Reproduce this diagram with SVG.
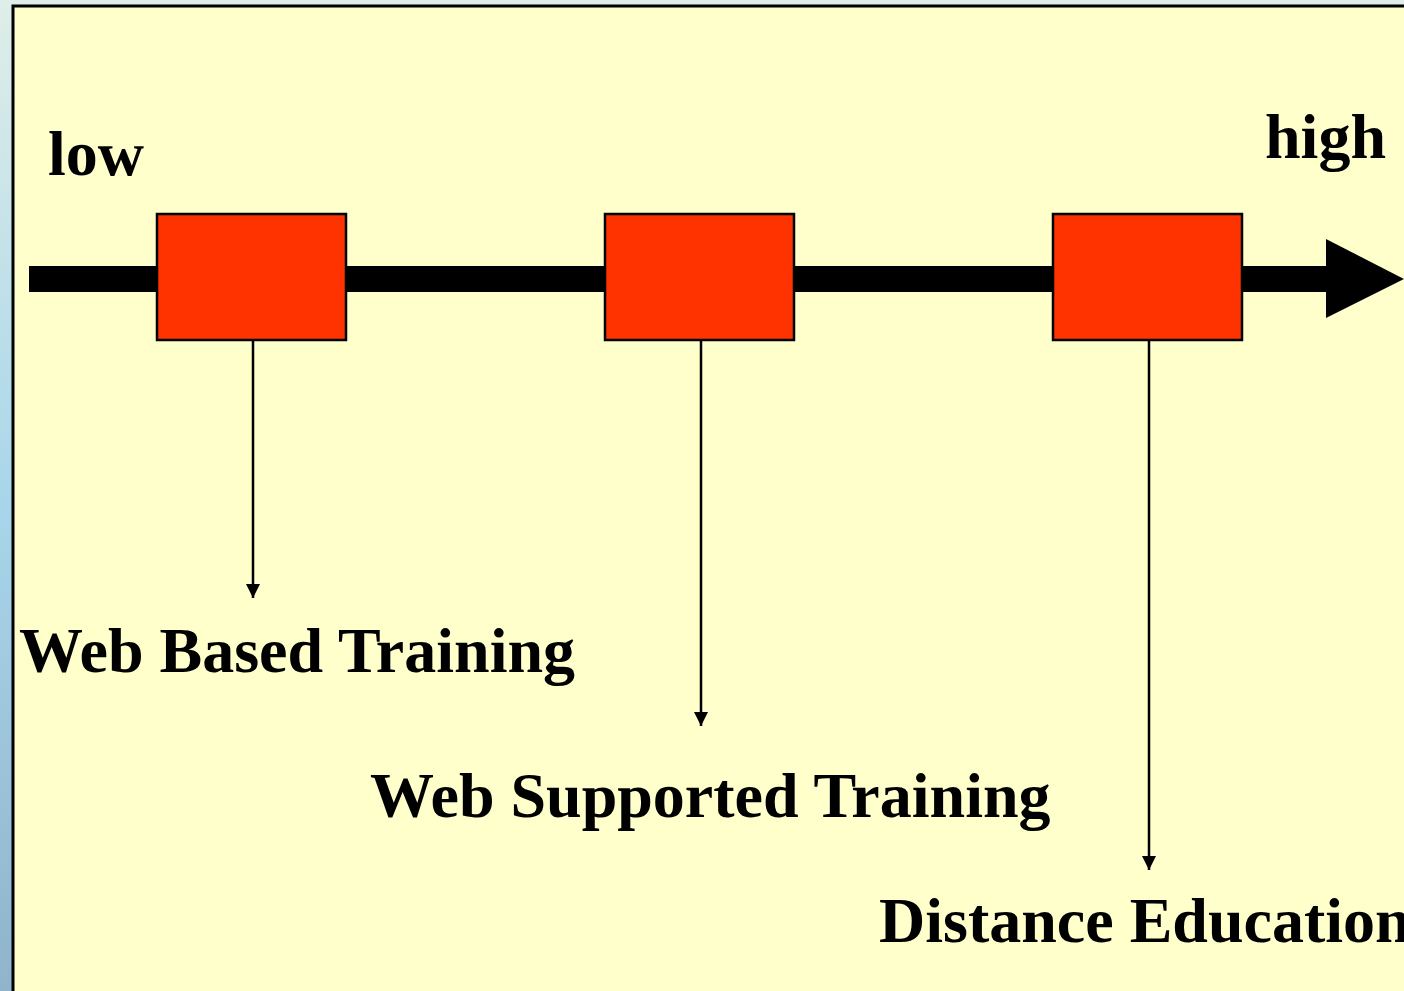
<svg xmlns="http://www.w3.org/2000/svg" width="1404" height="991" viewBox="0 0 1404 991">
<defs>
<linearGradient id="bg" x1="0" y1="0" x2="0" y2="1">
<stop offset="0" stop-color="#dfeee8"/>
<stop offset="0.5" stop-color="#a9d6ea"/>
<stop offset="1" stop-color="#8fb4cc"/>
</linearGradient>
<marker id="ah" markerWidth="14" markerHeight="14" viewBox="0 0 14 14" refX="14" refY="7" orient="auto" markerUnits="userSpaceOnUse">
<path d="M0,0 L14,7 L0,14 Z" fill="#000"/>
</marker>
<style>
.lbl{font-family:"Liberation Serif","Times New Roman",serif;font-weight:bold;font-size:64px;fill:#000}
.box{fill:#FF3300;stroke:#000;stroke-width:2.5}
.conn{stroke:#000;stroke-width:2.5;fill:none}
</style>
</defs>
<rect x="0" y="0" width="1404" height="991" fill="url(#bg)"/>
<rect x="13" y="6" width="1420" height="1000" fill="#FFFFCC" stroke="#000" stroke-width="3"/>
<g id="axis">
<rect x="29" y="266" width="1298" height="26" fill="#000"/>
<polygon points="1326,239 1404,279 1326,318" fill="#000"/>
</g>
<g id="connectors">
<line class="conn" x1="253" y1="341" x2="253" y2="598" marker-end="url(#ah)"/>
<line class="conn" x1="701" y1="341" x2="701" y2="726" marker-end="url(#ah)"/>
<line class="conn" x1="1149" y1="341" x2="1149" y2="870" marker-end="url(#ah)"/>
</g>
<g id="node-wbt"><rect class="box" x="157" y="214" width="189" height="126"/></g>
<g id="node-wst"><rect class="box" x="605" y="214" width="189" height="126"/></g>
<g id="node-de"><rect class="box" x="1053" y="214" width="189" height="126"/></g>
<g id="label-low"><text class="lbl" x="48" y="175">low</text></g>
<g id="label-high"><text class="lbl" x="1265" y="158">high</text></g>
<g id="label-wbt"><text class="lbl" x="19" y="672">Web Based Training</text></g>
<g id="label-wst"><text class="lbl" x="370" y="817">Web Supported Training</text></g>
<g id="label-de"><text class="lbl" x="879" y="942">Distance Education</text></g>
</svg>
